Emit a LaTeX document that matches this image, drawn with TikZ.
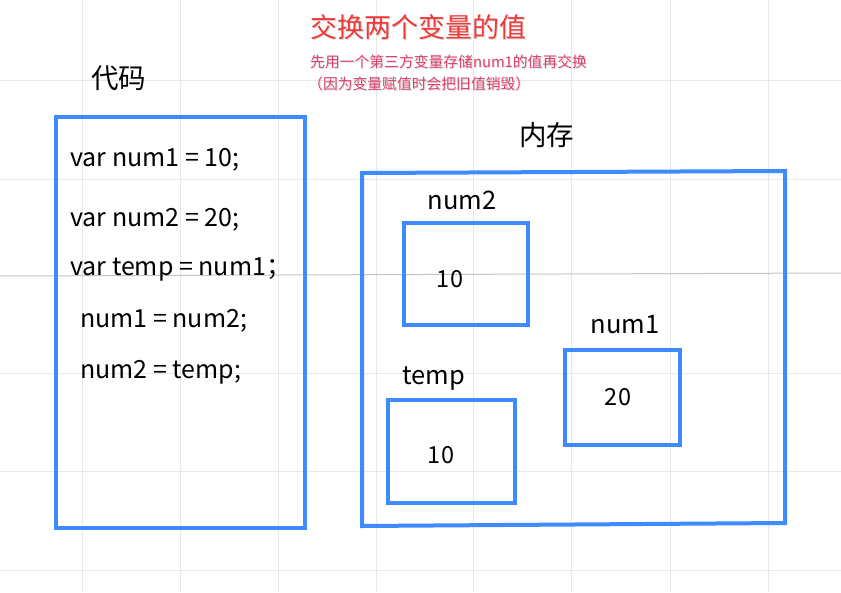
\documentclass[tikz,border=0pt]{standalone}
\usepackage{fontspec}
\setmainfont{Noto Sans CJK SC}
\definecolor{boxblue}{HTML}{3D8BFF}
\definecolor{titlered}{HTML}{F03A3A}
\definecolor{subred}{HTML}{D8406A}
\definecolor{gridc}{HTML}{E8E8E8}
\definecolor{gridd}{HTML}{C6C6C6}
\begin{document}
\begin{tikzpicture}[x=1pt,y=-1pt,
  membox/.style={draw=boxblue,line width=4pt},
  codetxt/.style={anchor=west,inner sep=0pt,font=\fontsize{25}{29}\selectfont},
  lbl/.style={inner sep=0pt,font=\fontsize{25.5}{29}\selectfont},
  val/.style={inner sep=0pt,font=\fontsize{23.5}{27}\selectfont},
  gridline/.style={draw=gridc,line width=1pt}]
\useasboundingbox (0,0) rectangle (841,592);
\fill[white] (0,0) rectangle (841,592);
% grid
\foreach \gx in {82,180,278,376,473,571,670,768}{\draw[gridline] (\gx,0) -- (\gx,592);}
\foreach \gy in {80,179,373,471,570}{\draw[gridline] (0,\gy) -- (841,\gy);}
\draw[draw=gridd,line width=1pt] (0,276) -- (841,273);
% title
\node[inner sep=0pt,anchor=west,text=gray!60,opacity=0.5,font=\fontsize{27}{31}\selectfont] at (311,28) {交换两个变量的值};
\node[inner sep=0pt,anchor=west,text=titlered,font=\fontsize{27}{31}\selectfont] (title) at (310,27) {交换两个变量的值};
\node[inner sep=0pt,anchor=west,text=gray!60,opacity=0.4,font=\fontsize{14.8}{17}\selectfont] at (311,63) {先用一个第三方变量存储num1的值再交换};
\node[inner sep=0pt,anchor=west,text=subred,font=\fontsize{14.8}{17}\selectfont] (sub1) at (310,62) {先用一个第三方变量存储num1的值再交换};
\node[inner sep=0pt,anchor=west,text=gray!60,opacity=0.4,font=\fontsize{14.8}{17}\selectfont] at (309,85) {（因为变量赋值时会把旧值销毁）};
\node[inner sep=0pt,anchor=west,text=subred,font=\fontsize{14.8}{17}\selectfont] (sub2) at (308,84) {（因为变量赋值时会把旧值销毁）};
% headings
\node[inner sep=0pt,anchor=west,font=\fontsize{27.5}{31}\selectfont] (codehead) at (91,78) {代码};
\node[inner sep=0pt,anchor=west,font=\fontsize{27.5}{31}\selectfont] (memhead) at (519,135) {内存};
% code box
\draw[membox] (56,117) rectangle (305,528);
\node[codetxt] (c1) at (70,160) {var num1 = 10;};
\node[codetxt] (c2) at (70,220) {var num2 = 20;};
\node[codetxt] (c3) at (70,269) {var temp = num1；};
\node[codetxt] (c4) at (80,321) {num1 = num2;};
\node[codetxt] (c5) at (80,372) {num2 = temp;};
% memory box
\draw[membox] (362,173) -- (785,171) -- (785,523) -- (362,526) -- cycle;
% variables
\draw[membox] (404,223) rectangle (528,325);
\node[lbl] (n2) at (462,200) {num2};
\node[val] (v2) at (450,279) {10};
\draw[membox] (565,350) rectangle (680,445);
\node[lbl] (n1) at (625,325) {num1};
\node[val] (v1) at (618,397) {20};
\draw[membox] (388,400) rectangle (515,503);
\node[lbl] (nt) at (434,379) {temp};
\node[val] (vt) at (441,455) {10};
\end{tikzpicture}
\end{document}
